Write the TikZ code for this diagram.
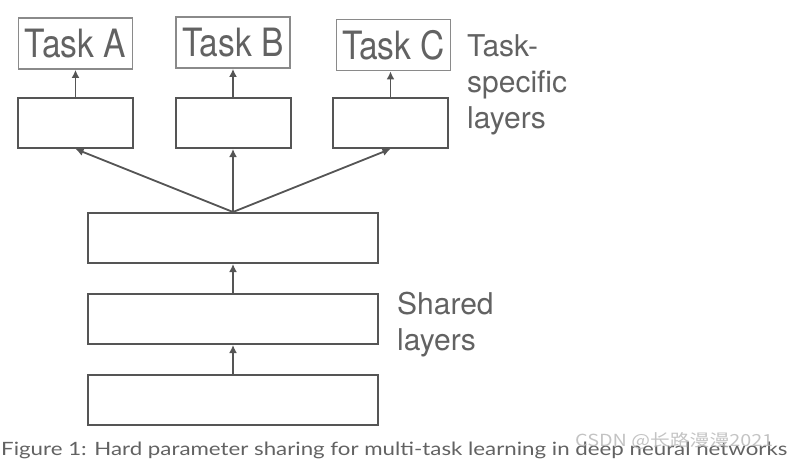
\documentclass[tikz,border=0pt]{standalone}
\usepackage{fontspec}
\setmainfont{TeX Gyre Heros}
\newfontfamily\taskfont{TeX Gyre Heros}[FakeStretch=0.86]
\newfontfamily\capfont{Lato}
\newfontfamily\cjkfont{Noto Sans CJK SC}
\usepackage{xcolor}
\usetikzlibrary{arrows.meta}
\definecolor{linegray}{HTML}{555555}
\definecolor{boxgray}{HTML}{8A8A8A}
\definecolor{textgray}{HTML}{626262}

\begin{document}
\begin{tikzpicture}[x=1pt, y=-1pt,
	taskbox/.style={draw=boxgray, line width=1.8pt, minimum width=114pt, minimum height=51pt, inner sep=0pt, text=textgray, font=\taskfont\fontsize{39}{39}\selectfont},
	layer/.style={draw=linegray, line width=2pt, minimum height=50pt, inner sep=0pt},
	flow/.style={draw=linegray, line width=1.8pt, -{Latex[length=8pt,width=8pt]}},
	note/.style={anchor=north west, align=left, inner sep=0pt, text=textgray, font=\fontsize{30}{36}\selectfont}]

	\useasboundingbox (0,0) rectangle (789,460);

	%	\foreach \i in {0,50,...,750} {
	%		\draw [very thin,gray] (\i,0) -- (\i,460);
	%	}

	% task heads and task-specific layers
	\foreach \t/\x/\y/\s in {A/75.5/43.5/75.5, B/233/42.5/233, C/393.5/45/390.5} {
		\node [taskbox] (task\t) at (\x,\y) {\raisebox{-3pt}{Task \t}};
		\node [layer, minimum width=115pt] (spec\t) at (\s,123) {};
	}

	% shared layers
	\node [layer, minimum width=290pt] (sharedTop) at (233,238) {};
	\node [layer, minimum width=290pt] (sharedMid) at (233,319) {};
	\node [layer, minimum width=290pt] (sharedBot) at (233,400) {};

	\draw [flow] (sharedBot.north) -- (sharedMid.south);
	\draw [flow] (sharedMid.north) -- (sharedTop.south);
	\foreach \t in {A,B,C} {
		\draw [flow] (sharedTop.north) -- (spec\t.south);
		\draw [flow] (spec\t.north) -- (spec\t.north |- task\t.south);
	}

	\node [note] (specNote) at (467,34) {Task-\\specific\\layers};
	\node [note] (sharedNote) at (397,292) {Shared\\layers};

	\node [anchor=base west, inner sep=0pt, text=textgray] (caption) at (1,455)
		{\resizebox{786pt}{13.5pt}{\capfont Figure 1: Hard parameter sharing for multi-task learning in deep neural networks}};
	\node [anchor=base west, inner sep=0pt, text=gray!55, opacity=0.85] (mark) at (575,446)
		{\resizebox{198pt}{14pt}{\cjkfont CSDN @长路漫漫2021}};

\end{tikzpicture}
\end{document}
